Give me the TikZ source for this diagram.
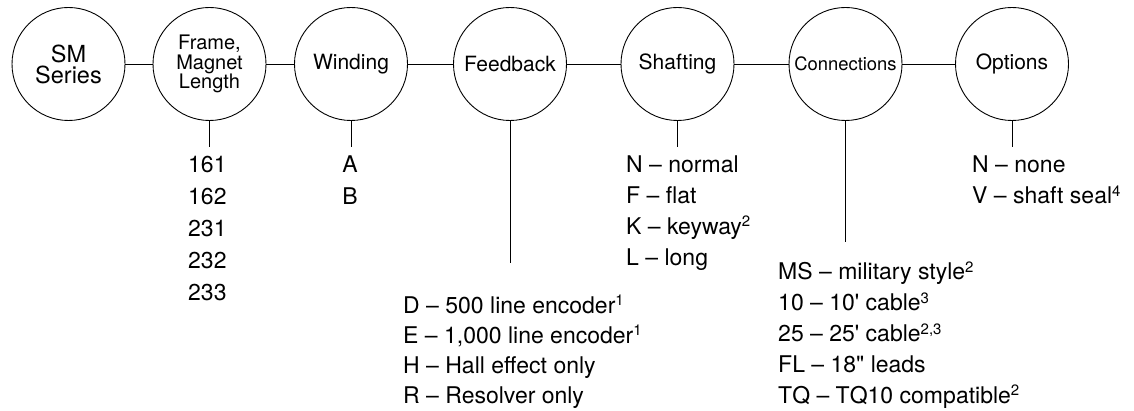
\documentclass[tikz,border=0pt]{standalone}
\usepackage{fontspec}
\setmainfont{TeX Gyre Heros}
\newcommand\fnote[1]{\raisebox{7.5pt}{\fontsize{15}{15}\selectfont #1}}
\begin{document}
\begin{tikzpicture}[x=1pt,y=-1pt,
  circ/.style={circle, draw, line width=0.9pt, minimum size=113pt, inner sep=0pt, align=center,
    font=\fontsize{21}{21}\selectfont},
  link/.style={line width=0.9pt},
  listtext/.style={inner sep=0pt, anchor=base west},
]
\useasboundingbox (0,0) rectangle (1134,411);
\node[circ, font={\fontsize{23.5}{21}\selectfont\lineskiplimit=-20pt}] (sm) at (68.5,64) {SM\\Series};
\node[circ, font={\fontsize{20}{19.5}\selectfont\lineskiplimit=-20pt}] (fr) at (209.5,64) {Frame,\\Magnet\\Length};
\node[circ] (wi) at (351,64) {Winding};
\node[circ] (fb) at (510,64) {Feedback};
\node[circ] (sh) at (677.5,64) {Shafting};
\node[circ, font=\fontsize{18.4}{18.4}\selectfont] (co) at (845.5,64) {Connections};
\node[circ] (op) at (1012,64) {Options};

\draw[link] (sm) -- (fr);
\draw[link] (fr) -- (wi);
\draw[link] (wi) -- (fb);
\draw[link] (fb) -- (sh);
\draw[link] (sh) -- (co);
\draw[link] (co) -- (op);

\coordinate (frE) at (209.5,147);
\coordinate (wiE) at (351,147);
\coordinate (fbE) at (510,263);
\coordinate (shE) at (677.5,147);
\coordinate (coE) at (845.5,242);
\coordinate (opE) at (1012,147);
\draw[link] (fr.south) -- (frE);
\draw[link] (wi.south) -- (wiE);
\draw[link] (fb.south) -- (fbE);
\draw[link] (sh.south) -- (shE);
\draw[link] (co.south) -- (coE);
\draw[link] (op.south) -- (opE);

\node[listtext, font=\fontsize{23}{32}\selectfont] (frL) at (188,173)
  {\vtop{\hbox{161}\hbox{162}\hbox{231}\hbox{232}\hbox{233}}};
\node[inner sep=0pt, anchor=base, font=\fontsize{23}{32}\selectfont] (wiL) at (350,173)
  {\vtop{\halign{\hfil#\hfil\cr A\cr B\cr}}};
\node[listtext, font=\fontsize{23}{30.7}\selectfont] (shL) at (626,173)
  {\vtop{\hbox{N – normal}\hbox{F – flat}\hbox{K – keyway\fnote{2}}\hbox{L – long}}};
\node[listtext, font=\fontsize{23}{31}\selectfont] (opL) at (972,173)
  {\vtop{\hbox{N – none}\hbox{V – shaft seal\fnote{4}}}};
\node[listtext, font=\fontsize{23}{30.3}\selectfont] (fbL) at (403,313)
  {\vtop{\hbox{D – 500 line encoder\fnote{1}}\hbox{E – 1,000 line encoder\fnote{1}}\hbox{H – Hall effect only}\hbox{R – Resolver only}}};
\node[listtext, font=\fontsize{23}{30.8}\selectfont] (coL) at (778,280)
  {\vtop{\hbox{MS – military style\fnote{2}}\hbox{10 – 10\textquotesingle\ cable\fnote{3}}\hbox{25 – 25\textquotesingle\ cable\fnote{2,3}}\hbox{FL – 18\textquotedbl\ leads}\hbox{TQ – TQ10 compatible\fnote{2}}}};
\end{tikzpicture}
\end{document}
